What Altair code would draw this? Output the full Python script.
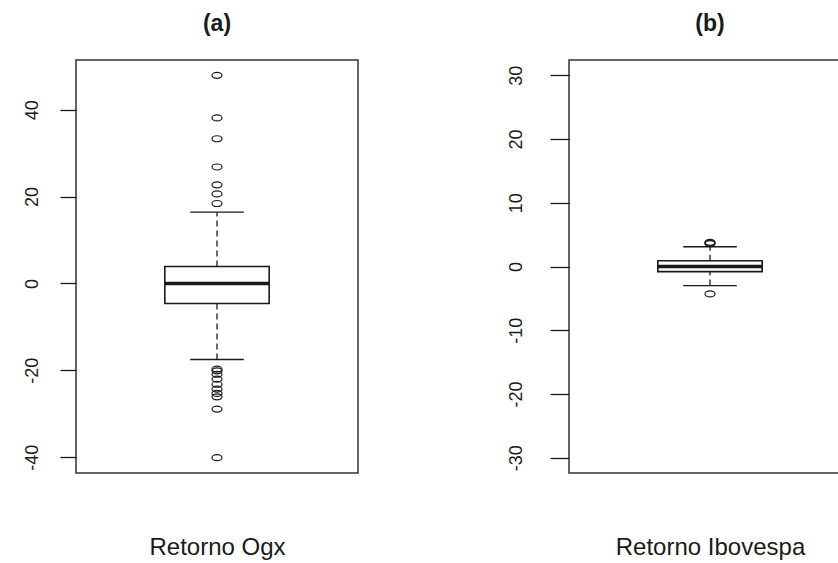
import altair as alt
import pandas as pd

# Five-number summaries: lower whisker, Q1, median, Q3, upper whisker
ogx_stats = [-17.5, -4.6, 0.0, 3.9, 16.4]
ogx_outliers = [47.9, 38.1, 33.3, 26.8, 22.7, 20.6, 18.4,
                -19.7, -20.1, -20.9, -22.0, -23.2, -24.3, -25.3, -26.1,
                -28.9, -40.1]

ibov_stats = [-3.0, -0.8, 0.0, 0.9, 3.1]
ibov_outliers = [3.6, 3.7, 3.8, -4.3]

panel_titles = ["(a)", "(b)"]
series_labels = ["Retorno Ogx", "Retorno Ibovespa"]
ogx_ticks = [-40, -20, 0, 20, 40]
ibov_ticks = [-30, -20, -10, 0, 10, 20, 30]
ibov_limits = [-30, 30]

FONT = "Liberation Sans"
INK = "#1a1a1a"
FRAME = "#333333"
BOX_HALF = 0.185
CAP_HALF = 0.095
# open ellipse, like R's pch = 1 on a stretched device
ELLIPSE = "M -1 0 A 1 0.6 0 1 0 1 0 A 1 0.6 0 1 0 -1 0 Z"


def expand(lo, hi):
    """R-style 4% padding of an axis range."""
    d = (hi - lo) * 0.04
    return [lo - d, hi + d]


def boxplot_panel(stats, outliers, ticks, limits, title, label, tick_size, label_pad):
    lw, q1, med, q3, uw = stats
    box_df = pd.DataFrame({"lw": [lw], "q1": [q1], "med": [med], "q3": [q3], "uw": [uw]})
    caps_df = pd.DataFrame({"value": [lw, uw]})
    out_df = pd.DataFrame({"value": outliers})

    xs = alt.Scale(domain=[0, 1], nice=False, zero=False)
    ys = alt.Scale(domain=expand(*limits), nice=False, zero=False)
    x_axis = alt.Axis(title=label, labels=False, ticks=False, domain=False, grid=False,
                      titleFont=FONT, titleFontSize=24, titleFontWeight="normal",
                      titleColor=INK, titlePadding=62)
    # plain ASCII hyphen for negative numbers
    y_axis = alt.Axis(title=None, values=ticks, tickSize=tick_size, tickColor=INK,
                      tickWidth=1.3, labelPadding=label_pad, labelAngle=270,
                      labelAlign="center", labelBaseline="alphabetic", labelFont=FONT,
                      labelFontSize=18, labelColor=INK, labelOverlap=False,
                      labelExpr="'' + datum.value", domain=False, grid=False)

    def X(v):
        return alt.XDatum(v, type="quantitative", scale=xs, axis=x_axis)

    def Y(f):
        return alt.Y(f, type="quantitative", scale=ys, axis=y_axis)

    whisk_low = alt.Chart(box_df).mark_rule(
        color=INK, strokeWidth=1.3, strokeDash=[6, 4]
    ).encode(x=X(0.5), y=Y("lw"), y2="q1")
    whisk_high = alt.Chart(box_df).mark_rule(
        color=INK, strokeWidth=1.3, strokeDash=[6, 4]
    ).encode(x=X(0.5), y=Y("q3"), y2="uw")
    caps = alt.Chart(caps_df).mark_rule(color=INK, strokeWidth=1.3).encode(
        x=X(0.5 - CAP_HALF), x2=alt.X2Datum(0.5 + CAP_HALF), y=Y("value")
    )
    box = alt.Chart(box_df).mark_rect(fill="white", stroke=INK, strokeWidth=1.6).encode(
        x=X(0.5 - BOX_HALF), x2=alt.X2Datum(0.5 + BOX_HALF), y=Y("q1"), y2="q3"
    )
    median = alt.Chart(box_df).mark_rule(color=INK, strokeWidth=3.5).encode(
        x=X(0.5 - BOX_HALF), x2=alt.X2Datum(0.5 + BOX_HALF), y=Y("med")
    )
    points = alt.Chart(out_df).mark_point(
        shape=ELLIPSE, size=100, filled=False, color=INK, strokeWidth=1.2, opacity=1
    ).encode(x=X(0.5), y=Y("value"))

    return alt.layer(whisk_low, whisk_high, caps, box, median, points).properties(
        width=282,
        height=413,
        title=alt.TitleParams(text=title, font=FONT, fontSize=23, fontWeight="bold",
                              color=INK, offset=24, anchor="middle", frame="group"),
    )


ogx_all = ogx_stats + ogx_outliers
panel_a = boxplot_panel(ogx_stats, ogx_outliers, ogx_ticks,
                        [min(ogx_all), max(ogx_all)], panel_titles[0],
                        series_labels[0], tick_size=16, label_pad=23)
panel_b = boxplot_panel(ibov_stats, ibov_outliers, ibov_ticks, ibov_limits,
                        panel_titles[1], series_labels[1], tick_size=19, label_pad=29)

chart = alt.hconcat(panel_a, panel_b, spacing=211, bounds="flush").properties(
    autosize=alt.AutoSizeParams(type="none"),
    padding={"left": 76, "top": 60, "right": 762, "bottom": 503},
    background="white",
).configure_view(stroke=FRAME, strokeWidth=1.5)

chart.save("out.html", embed_options={"renderer": "svg", "actions": False})
